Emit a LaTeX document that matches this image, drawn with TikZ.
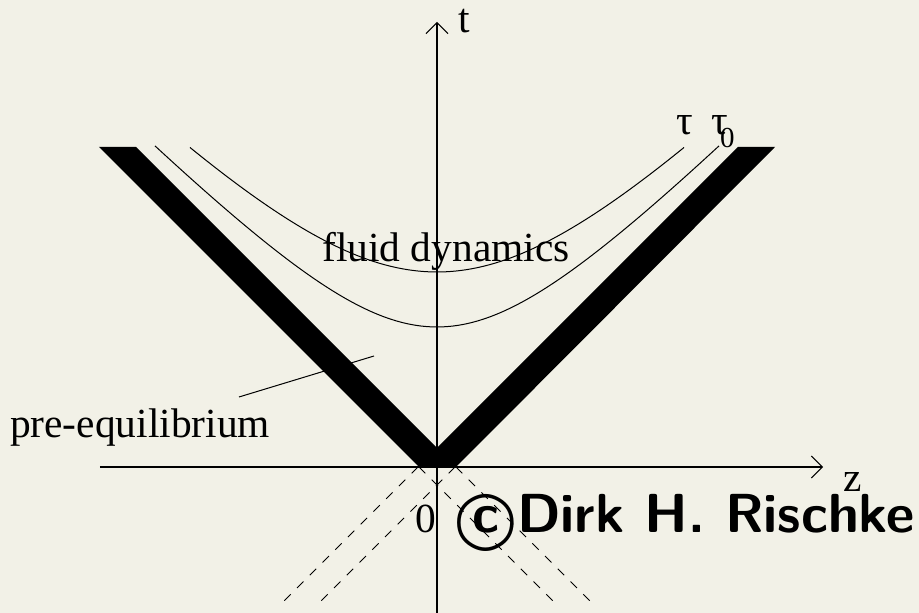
\documentclass[tikz,border=0pt]{standalone}
\usepackage{fontspec}
\setmainfont{Liberation Serif}
\newfontfamily\circfont{DejaVu Sans}
\usetikzlibrary{arrows.meta, positioning, calc}
\definecolor{paper}{RGB}{242,241,231}
\newcommand{\bigcopy}{\ooalign{\hfil c\hfil\crcr\raisebox{-2.4pt}{\circfont\mdseries\fontsize{28}{30}\selectfont ◯}}}

\begin{document}
\begin{tikzpicture}[x=0.5pt, y=0.5pt,
    axis/.style={-{Straight Barb[length=5.5pt, width=11pt, line width=0.5pt]}, line width=0.8pt},
    shade/.style={dashed, dash pattern=on 4.5pt off 4.5pt, line width=0.5pt},
    hyper/.style={line width=0.5pt},
    lbl/.style={font=\fontsize{20.7}{24}\selectfont, inner sep=0pt},
    sig/.style={font=\sffamily\bfseries\fontsize{27.5}{30}\selectfont, inner sep=0pt}
]
\fill[paper] (-437,-146) rectangle (482,467);
\useasboundingbox (-437,-146) rectangle (482,467);

\coordinate (tbot) at (0,-146);
\coordinate (ttop) at (0,445);
\coordinate (zleft) at (-337,0);
\coordinate (zright) at (386,0);

\fill (-338,320) -- (-18,0) -- (19,0) -- (338,320) -- (301,320)
      -- (0,19) -- (-301,320) -- cycle;

\draw[shade] (-19,0) -- (-157,-138);
\draw[shade] (18,0)  -- (-120,-138);
\draw[shade] (19,0)  -- (157,-138);
\draw[shade] (-18,0) -- (120,-138);

\draw[hyper] plot[domain=-282:282, samples=90] (\x, {100*sqrt(1.96 + 1.05*(\x/100)^2)});
\draw[hyper] plot[domain=-247:247, samples=90] (\x, {100*sqrt(3.8025 + 1.05*(\x/100)^2)});

\draw[axis] (zleft) -- (zright);
\draw[axis] (tbot) -- (ttop);

\node[lbl] (tlab) at (27,446) {t};
\node[lbl] (zlab) at (416,-15) {z};
\node[lbl] (orig) at (-11,-52) {0};
\node[lbl, anchor=base] (fluid) at (9,205) {fluid dynamics};
\node[lbl, anchor=base] (pre) at (-297,29) {pre-equilibrium};
\node[lbl, anchor=base] (tau) at (248,332) {τ};
\node[lbl, anchor=base] (tau0) at (286,332)
    {τ\kern-4pt\raisebox{-6.5pt}{\fontsize{14.5}{16}\selectfont 0}};
\node[sig, anchor=base east] (sign) at (478,-66) {\bigcopy Dirk H. Rischke};

\coordinate (pretip) at (-63,111);
\coordinate (pretail) at (-198,70);
\draw[hyper] (pretail) -- (pretip);
\end{tikzpicture}
\end{document}
